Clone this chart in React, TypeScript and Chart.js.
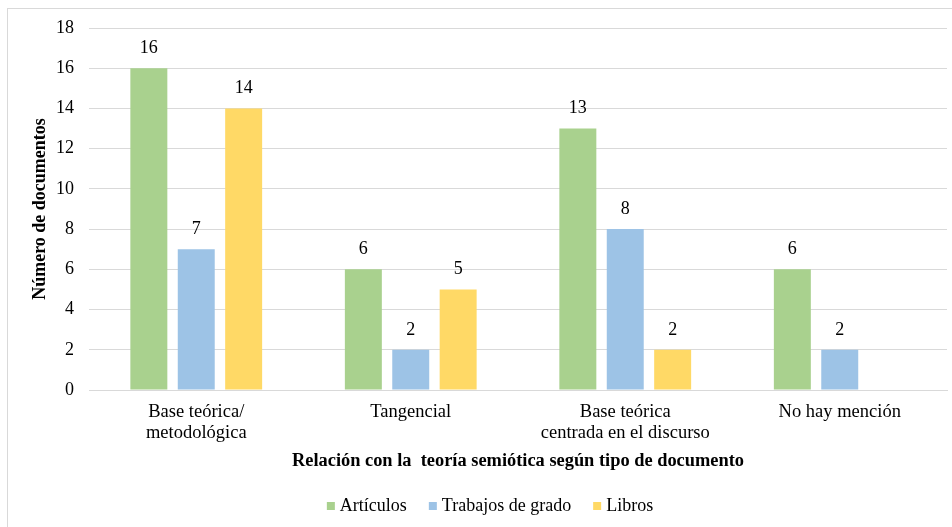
import React, { useEffect, useRef } from "react";
import { Chart, registerables } from "chart.js";

Chart.register(...registerables);

const categories: (string | string[])[] = [
  ["Base teórica/", "metodológica"],
  "Tangencial",
  ["Base teórica", "centrada en el discurso"],
  "No hay mención",
];
const articulos = [16, 6, 13, 6];
const trabajosDeGrado = [7, 2, 8, 2];
const libros: (number | null)[] = [14, 5, 2, null];
const seriesNames = ["Artículos", "Trabajos de grado", "Libros"];
const yTicks = [0, 2, 4, 6, 8, 10, 12, 14, 16, 18];

const FONT = "'Liberation Serif', 'Times New Roman', serif";

const valueLabels = {
  id: "valueLabels",
  afterDatasetsDraw(chart: any) {
    const ctx = chart.ctx;
    ctx.save();
    ctx.font = `18px ${FONT}`;
    ctx.fillStyle = "#000000";
    ctx.textAlign = "center";
    ctx.textBaseline = "middle";
    chart.data.datasets.forEach((ds: any, i: number) => {
      const meta = chart.getDatasetMeta(i);
      meta.data.forEach((bar: any, j: number) => {
        const v = ds.data[j];
        if (v === null || v === undefined) return;
        ctx.fillText(String(v), bar.x, bar.y - 20);
      });
    });
    ctx.restore();
  },
};

const bottomLegend = {
  id: "bottomLegend",
  afterDraw(chart: any) {
    const ctx = chart.ctx;
    const box = 8;
    const gapText = 5;
    const gapItem = 22;
    ctx.save();
    ctx.font = `18px ${FONT}`;
    ctx.textBaseline = "middle";
    ctx.textAlign = "left";
    const items = chart.data.datasets.map((ds: any) => ({
      label: ds.label,
      color: ds.backgroundColor,
      w: ctx.measureText(ds.label).width,
    }));
    const total =
      items.reduce((s: number, it: any) => s + box + gapText + it.w, 0) +
      gapItem * (items.length - 1);
    let x = 482 - total / 2;
    const y = 497;
    items.forEach((it: any) => {
      ctx.fillStyle = it.color;
      ctx.fillRect(x, y - box / 2, box, box);
      x += box + gapText;
      ctx.fillStyle = "#000000";
      ctx.fillText(it.label, x, y);
      x += it.w + gapItem;
    });
    ctx.restore();
  },
};

export default function App() {
  const ref = useRef<HTMLCanvasElement | null>(null);
  useEffect(() => {
    if (!ref.current) return;
    const chart = new Chart(ref.current, {
      type: "bar",
      data: {
        labels: categories,
        datasets: [
          { label: seriesNames[0], data: articulos, backgroundColor: "#A9D18E" },
          { label: seriesNames[1], data: trabajosDeGrado, backgroundColor: "#9DC3E6" },
          { label: seriesNames[2], data: libros, backgroundColor: "#FFD966" },
        ],
      },
      options: {
        animation: false,
        responsive: false,
        maintainAspectRatio: false,
        layout: { padding: { top: 19, right: 5, bottom: 46, left: 0 } },
        datasets: {
          bar: { categoryPercentage: 0.663, barPercentage: 0.78 },
        },
        scales: {
          x: {
            grid: { display: false, drawTicks: false },
            border: { display: true, color: "#d9d9d9", width: 1 },
            ticks: {
              color: "#000000",
              font: { family: FONT, size: 18.5, lineHeight: 1.12 },
              padding: 12,
              maxRotation: 0,
              autoSkip: false,
            },
            title: {
              display: true,
              text: "Relación con la  teoría semiótica según tipo de documento",
              color: "#000000",
              font: { family: FONT, size: 18.4, weight: "bold" },
              padding: { top: 8, bottom: 9 },
            },
            afterFit(scale: any) {
              scale.height = 91;
              scale.paddingLeft = 0;
              scale.paddingRight = 0;
            },
          },
          y: {
            min: 0,
            max: 18,
            afterBuildTicks(scale: any) {
              scale.ticks = yTicks.map((v) => ({ value: v }));
            },
            grid: { color: "#d9d9d9", drawTicks: false },
            border: { display: false },
            ticks: {
              color: "#000000",
              font: { family: FONT, size: 18 },
              padding: 15,
            },
            title: {
              display: true,
              text: "Número de documentos",
              color: "#000000",
              font: { family: FONT, size: 18, weight: "bold" },
              padding: { top: 22, bottom: 0 },
            },
            afterFit(scale: any) {
              scale.width = 81;
              scale.paddingTop = 0;
              scale.paddingBottom = 0;
            },
          },
        },
        plugins: {
          legend: { display: false },
          tooltip: { enabled: false },
        },
      } as any,
      plugins: [valueLabels, bottomLegend],
    });
    return () => chart.destroy();
  }, []);

  return (
    <div
      style={{
        position: "absolute",
        left: 7,
        top: 8,
        width: 945,
        height: 519,
        boxSizing: "border-box",
        overflow: "hidden",
        borderTop: "1px solid #d9d9d9",
        borderLeft: "1px solid #d9d9d9",
        background: "#ffffff",
      }}
    >
      <canvas ref={ref} width={944} height={518} style={{ display: "block" }} />
    </div>
  );
}
